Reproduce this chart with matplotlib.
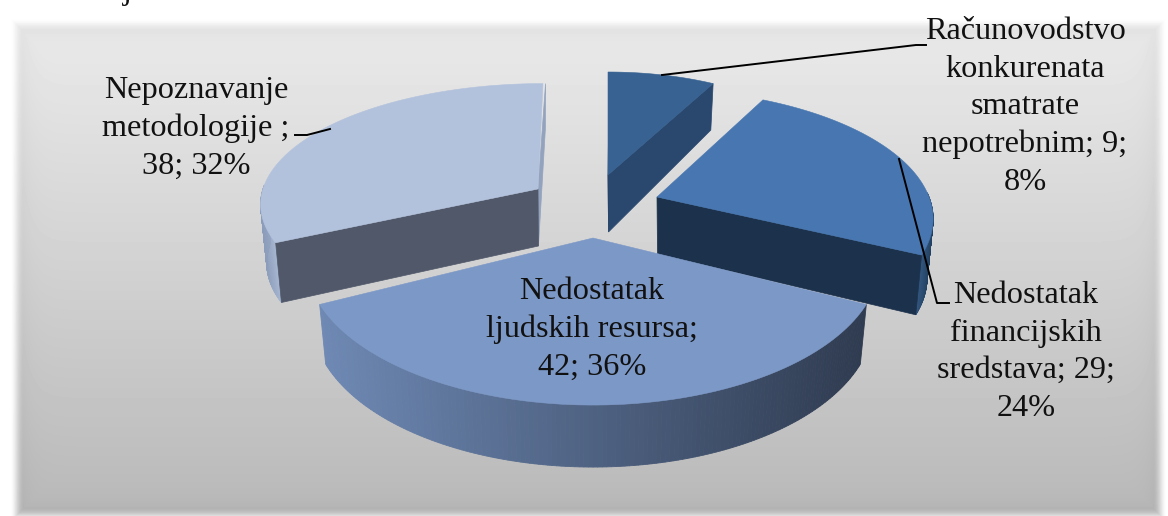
# 3D exploded pie, drawn by hand because matplotlib has no perspective pie
import numpy as np
import matplotlib
matplotlib.use('Agg')
import matplotlib.pyplot as plt
from matplotlib.colors import to_rgb

plt.rcParams['font.family'] = ['Liberation Serif', 'DejaVu Serif']

# data, clockwise from 12 o'clock
categories = ['Računovodstvo konkurenata smatrate nepotrebnim',
              'Nedostatak financijskih sredstava',
              'Nedostatak ljudskih resursa',
              'Nepoznavanje metodologije ']
values = [9, 29, 42, 38]
percents = [8, 24, 36, 32]
label_breaks = ['Računovodstvo\nkonkurenata\nsmatrate\nnepotrebnim; {v};\n{p}%',
                'Nedostatak\nfinancijskih\nsredstava; {v};\n{p}%',
                'Nedostatak\nljudskih resursa;\n{v}; {p}%',
                'Nepoznavanje\nmetodologije ;\n{v}; {p}%']

W, H = 1168, 516

fig = plt.figure(figsize=(W / 100, H / 100), dpi=100)
ax = fig.add_axes([0, 0, 1, 1])
ax.set_xlim(0, W)
ax.set_ylim(H, 0)
ax.axis('off')


def background():
    xx, yy = np.meshgrid(np.arange(W) + 0.5, np.arange(H) + 0.5)
    base = np.interp(yy, [28, 508], [234, 185])
    # distance from the panel edge
    d = np.minimum.reduce([xx - 18, 1159 - xx, yy - 26, 514 - yy])
    base = base * (1 - 0.05 * np.exp(-np.clip(d, 0, None) / 10.0))
    mask = np.clip((d + 8) / 14.0, 0, 1)
    mask = mask * mask * (3 - 2 * mask)
    img = 255 * (1 - mask) + base * mask
    ax.imshow(img, cmap='gray', vmin=0, vmax=255, extent=(0, W, H, 0),
              aspect='auto', zorder=0, interpolation='bilinear')


class Slice3D:
    # one exploded slice: apex on screen, radii and perspective of its own
    def __init__(self, apex, r, ry, k, z, lean=0.0):
        self.apex = apex
        self.r = r
        self.ry = ry
        self.k = k
        self.z = z
        self.lean = lean

    def project(self, theta, drop=False):
        t = np.radians(theta)
        c = np.cos(t)
        s = 1.0 / (1.0 + self.k * c)
        x = (self.r * np.sin(t) + self.lean * c) * s
        y = self.apex[1] - self.ry * c * s
        if drop:
            x = x * 0.978
            y = y + np.interp(c, [-1, 0, 1], [62, 58, 45])
        return self.apex[0] + x, y

    def arc(self, t0, t1, drop=False):
        x, y = self.project(np.linspace(t0, t1, 80), drop)
        return np.column_stack([x, y])

    def cut_wall(self, theta, color):
        px, py = self.project(theta)
        bx, by = self.project(theta, True)
        ax.fill([self.apex[0], px, bx, self.apex[0] + 0.5],
                [self.apex[1], py, by, self.apex[1] + 57],
                color=color, lw=0.5, zorder=self.z)

    def outer_wall(self, t0, t1, lo, hi):
        # gradient along x, one thin quad at a time
        th = np.linspace(t0, t1, 161)
        xs = self.project(th)[0]
        lo, hi = np.array(to_rgb(lo)), np.array(to_rgb(hi))
        for i in range(len(th) - 1):
            a = self.arc(th[i], th[i + 1])[[0, -1]]
            b = self.arc(th[i], th[i + 1], True)[[-1, 0]]
            f = (xs[i] - xs.min()) / (xs.max() - xs.min())
            ax.fill(np.r_[a[:, 0], b[:, 0]], np.r_[a[:, 1], b[:, 1]],
                    color=lo + (hi - lo) * f, lw=0.6, zorder=self.z)

    def top_face(self, t0, t1, color):
        pts = np.vstack([[self.apex], self.arc(t0, t1)])
        ax.fill(pts[:, 0], pts[:, 1], color=color, lw=0.4, zorder=self.z + 0.5)


background()

a0, a1, a2, a3, a4 = np.cumsum([0] + values) / sum(values) * 360.0

# small slice at the back
back = Slice3D((608, 175), 228, 103, 0.0, 2)
back.cut_wall(a0 + 0.3, '#1F3552')
back.cut_wall(a1, '#2A476E')
back.top_face(a0, a1, '#376291')

# light slice on the left
left = Slice3D((538, 189), 275, 117, 0.11, 3, lean=5.5)
left.cut_wall(a4 + 0.6, '#93A3BE')
left.outer_wall(a3, 272, '#8C9DBB', '#A9B8D2')
left.cut_wall(a3, '#50586A')
left.top_face(a3, a4, '#B3C2DC')

# blue slice on the right
right = Slice3D((657, 197), 272, 124, 0.15, 4, lean=-6)
right.outer_wall(88, a2, '#33567F', '#22405F')
right.cut_wall(a2, '#1C324C')
right.top_face(a1, a2, '#4776B0')

# big front slice
front = Slice3D((593, 238), 284, 142, 0.15, 5)
front.outer_wall(a2, a3, '#6E89B4', '#2F3B50')
front.top_face(a2, a3, '#7C98C6')

# leader lines
ax.plot([662, 916, 926], [75, 45, 45], color='black', lw=1.4, zorder=6)
ax.plot([899, 937, 949], [159, 303, 303], color='black', lw=1.4, zorder=6)
ax.plot([295, 307, 330], [135, 135, 129], color='black', lw=1.4, zorder=6)

# data labels
label_pos = [(1025, 107), (1026, 352), (592, 329), (196, 128)]
for tpl, v, p, (lx, ly) in zip(label_breaks, values, percents, label_pos):
    ax.text(lx, ly, tpl.format(v=v, p=p), ha='center', va='center',
            fontsize=23.2, linespacing=1.39, color='#111111', zorder=7)

# tail of a letter from the text above the chart
ax.text(123, -1, 'j', ha='left', va='baseline', fontsize=23.2, color='#111111', zorder=7)

fig.savefig('out.png', dpi=100)
